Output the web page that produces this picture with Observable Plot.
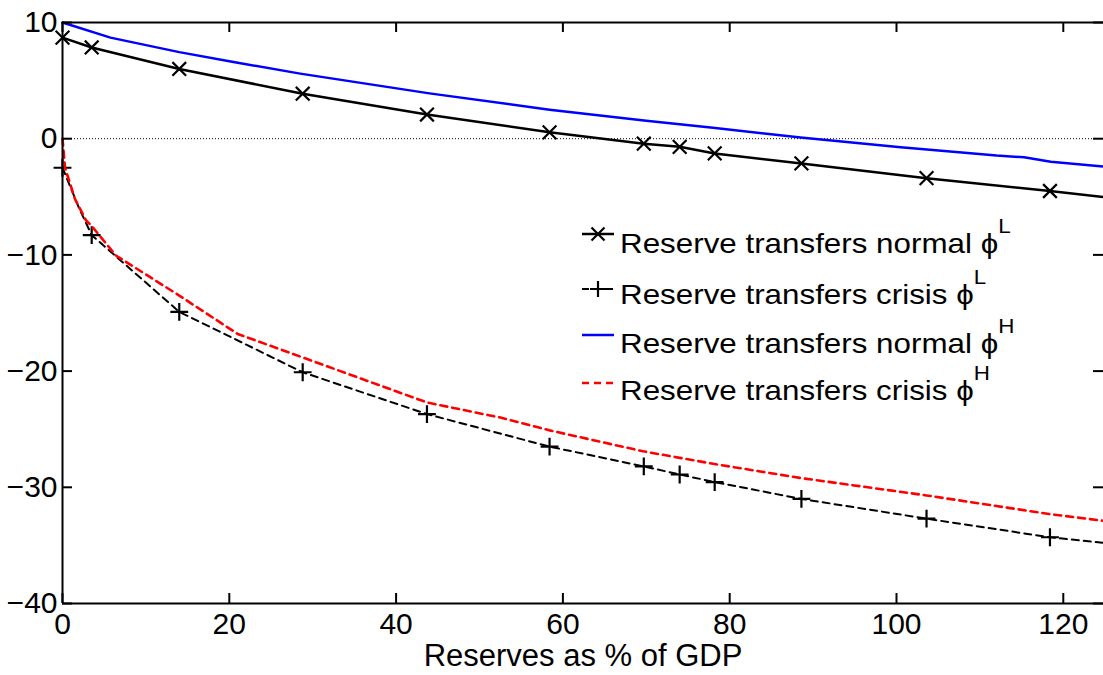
<!DOCTYPE html>
<html><head><meta charset="utf-8">
<script src="https://cdn.jsdelivr.net/npm/d3@7"></script>
<script src="https://cdn.jsdelivr.net/npm/@observablehq/plot@0.6"></script>
<style>
body{margin:0;background:#fff;}
#chart{width:1103px;height:675px;}
</style></head><body><div id="chart"></div>
<script>
// ---- data ----
const xTicks = [0, 20, 40, 60, 80, 100, 120];
const yTicks = [-40, -30, -20, -10, 0, 10];
const xLabel = "Reserves as % of GDP";
const markerX = [0, 3.5, 14, 28.8, 43.7, 58.4, 69.7, 74, 78.2, 88.6, 103.6, 118.4];

const normalL_x = [0, 3.5, 14, 28.8, 43.7, 58.4, 69.7, 74, 78.2, 88.6, 103.6, 118.4, 125];
const normalL_y = [8.7, 7.85, 6.0, 3.87, 2.08, 0.55, -0.43, -0.7, -1.27, -2.13, -3.4, -4.5, -5.03];

const crisisL_x = [0, 1.2, 2.0, 3.5, 14, 28.8, 43.7, 58.4, 69.7, 74, 78.2, 88.6, 103.6, 118.4, 125];
const crisisL_y = [-2.5, -4.6, -6.0, -8.3, -14.9, -20.1, -23.7, -26.5, -28.2, -28.9, -29.55, -31.0, -32.7, -34.3, -34.8];

const normalH_x = [0, 5.75, 14, 20.5, 28.5, 44, 58.4, 70, 78, 88.5, 100.5, 104, 112, 115.3, 118.5, 125];
const normalH_y = [10, 8.7, 7.45, 6.6, 5.6, 3.9, 2.5, 1.55, 0.95, 0.1, -0.73, -0.95, -1.45, -1.6, -1.98, -2.4];

const crisisH_x = [0, 0.3, 1.5, 2.8, 3.6, 6.4, 14, 21, 28.7, 43.7, 52.5, 58.4, 69.6, 78.2, 88.5, 103.6, 118.3, 125];
const crisisH_y = [0, -2.5, -5.2, -7.0, -7.6, -10.05, -13.5, -16.8, -18.8, -22.7, -24.0, -25.1, -26.9, -28.0, -29.2, -30.7, -32.3, -32.9];

const legendLabels = ["Reserve transfers normal ", "Reserve transfers crisis ", "Reserve transfers normal ", "Reserve transfers crisis "];
const legendSup = ["L", "L", "H", "H"];

// ---- tables ----
const toPts = (xs, ys) => xs.map((x, i) => ({x, y: ys[i]}));
const normalL = toPts(normalL_x, normalL_y);
const crisisL = toPts(crisisL_x, crisisL_y);
const normalH = toPts(normalH_x, normalH_y);
const crisisH = toPts(crisisH_x, crisisH_y);
const isMarker = d => markerX.includes(d.x);

const font = "'Liberation Sans', Arial, sans-serif";
const tickLen = 10;

const svg = Plot.plot({
  width: 1103,
  height: 675,
  marginLeft: 62,
  marginTop: 22,
  marginRight: 0,
  marginBottom: 72,
  style: {fontFamily: font, fontSize: "30px", background: "#fff", color: "#000", overflow: "visible"},
  x: {domain: [0, 125], range: [62, 1104.5]},
  y: {domain: [-40, 10], range: [603, 22]},
  marks: [
    Plot.ruleY([0], {stroke: "#000", strokeWidth: 1, strokeDasharray: "1,2"}),
    Plot.line(normalH, {x: "x", y: "y", stroke: "#0000ff", strokeWidth: 2.5}),
    Plot.line(normalL, {x: "x", y: "y", stroke: "#000", strokeWidth: 2.5}),
    Plot.dot(normalL.filter(isMarker), {x: "x", y: "y", symbol: "times", r: 6.3, stroke: "#000", strokeWidth: 2.2}),
    Plot.line(crisisL, {x: "x", y: "y", stroke: "#000", strokeWidth: 2, strokeDasharray: "7,5"}),
    Plot.dot(crisisL.filter(isMarker), {x: "x", y: "y", symbol: "plus", r: 5.8, stroke: "#000", strokeWidth: 2.2}),
    Plot.line(crisisH, {x: "x", y: "y", stroke: "#ff0000", strokeWidth: 2.6, strokeDasharray: "7,5"}),
    // frame
    Plot.ruleX([0, 125], {stroke: "#000", strokeWidth: 2}),
    Plot.ruleY([10, -40], {stroke: "#000", strokeWidth: 2}),
    // inward ticks
    Plot.tickX(xTicks, {x: d => d, stroke: "#000", strokeWidth: 2, insetTop: 581 - tickLen}),
    Plot.tickX(xTicks, {x: d => d, stroke: "#000", strokeWidth: 2, insetBottom: 581 - tickLen}),
    Plot.tickY(yTicks, {y: d => d, stroke: "#000", strokeWidth: 2, insetRight: 1041 - tickLen}),
    Plot.tickY(yTicks, {y: d => d, stroke: "#000", strokeWidth: 2, insetLeft: 1041 - tickLen}),
    // tick labels
    Plot.axisX(xTicks, {anchor: "bottom", tickSize: 0, tickPadding: 9, label: null, fontSize: 30}),
    Plot.axisY(yTicks, {anchor: "left", tickSize: 0, tickPadding: 5, label: null, fontSize: 30}),
    Plot.text([xLabel], {frameAnchor: "bottom", lineAnchor: "middle", dy: 53, text: d => d, fontSize: 31, fill: "#000"})
  ]
});

// ---- legend ----
const g = d3.select(svg).append("g").attr("font-family", font).attr("text-anchor", "start");
const lineY = [234, 289, 335, 383];
const baseY = [253, 304, 353, 400];
const styles = [
  {stroke: "#000", w: 2.5, dash: null, marker: "x"},
  {stroke: "#000", w: 2, dash: "7,5", marker: "+"},
  {stroke: "#0000ff", w: 2.5, dash: null, marker: null},
  {stroke: "#ff0000", w: 2.6, dash: "7,5", marker: null}
];
legendLabels.forEach((lab, i) => {
  const s = styles[i];
  g.append("line").attr("x1", 582).attr("x2", 614).attr("y1", lineY[i]).attr("y2", lineY[i])
    .attr("stroke", s.stroke).attr("stroke-width", s.w).attr("stroke-dasharray", s.dash);
  if (s.marker === "x") {
    g.append("path").attr("d", `M${598-6.5},${lineY[i]-6.5}L${598+6.5},${lineY[i]+6.5}M${598-6.5},${lineY[i]+6.5}L${598+6.5},${lineY[i]-6.5}`)
      .attr("stroke", "#000").attr("stroke-width", 2.2);
  } else if (s.marker === "+") {
    g.append("path").attr("d", `M${598-8},${lineY[i]}L${598+8},${lineY[i]}M598,${lineY[i]-8}L598,${lineY[i]+8}`)
      .attr("stroke", "#000").attr("stroke-width", 2.2);
  }
  const t = g.append("text").attr("transform", `translate(620,${baseY[i]}) scale(1.12,1)`)
    .attr("font-size", 28).attr("fill", "#000").attr("text-anchor", "start");
  t.append("tspan").text(lab);
  t.append("tspan").text("ϕ");
  t.append("tspan").attr("dy", -20).attr("font-size", 20).text(legendSup[i]);
});

document.getElementById("chart").appendChild(svg);
</script>
</body></html>
